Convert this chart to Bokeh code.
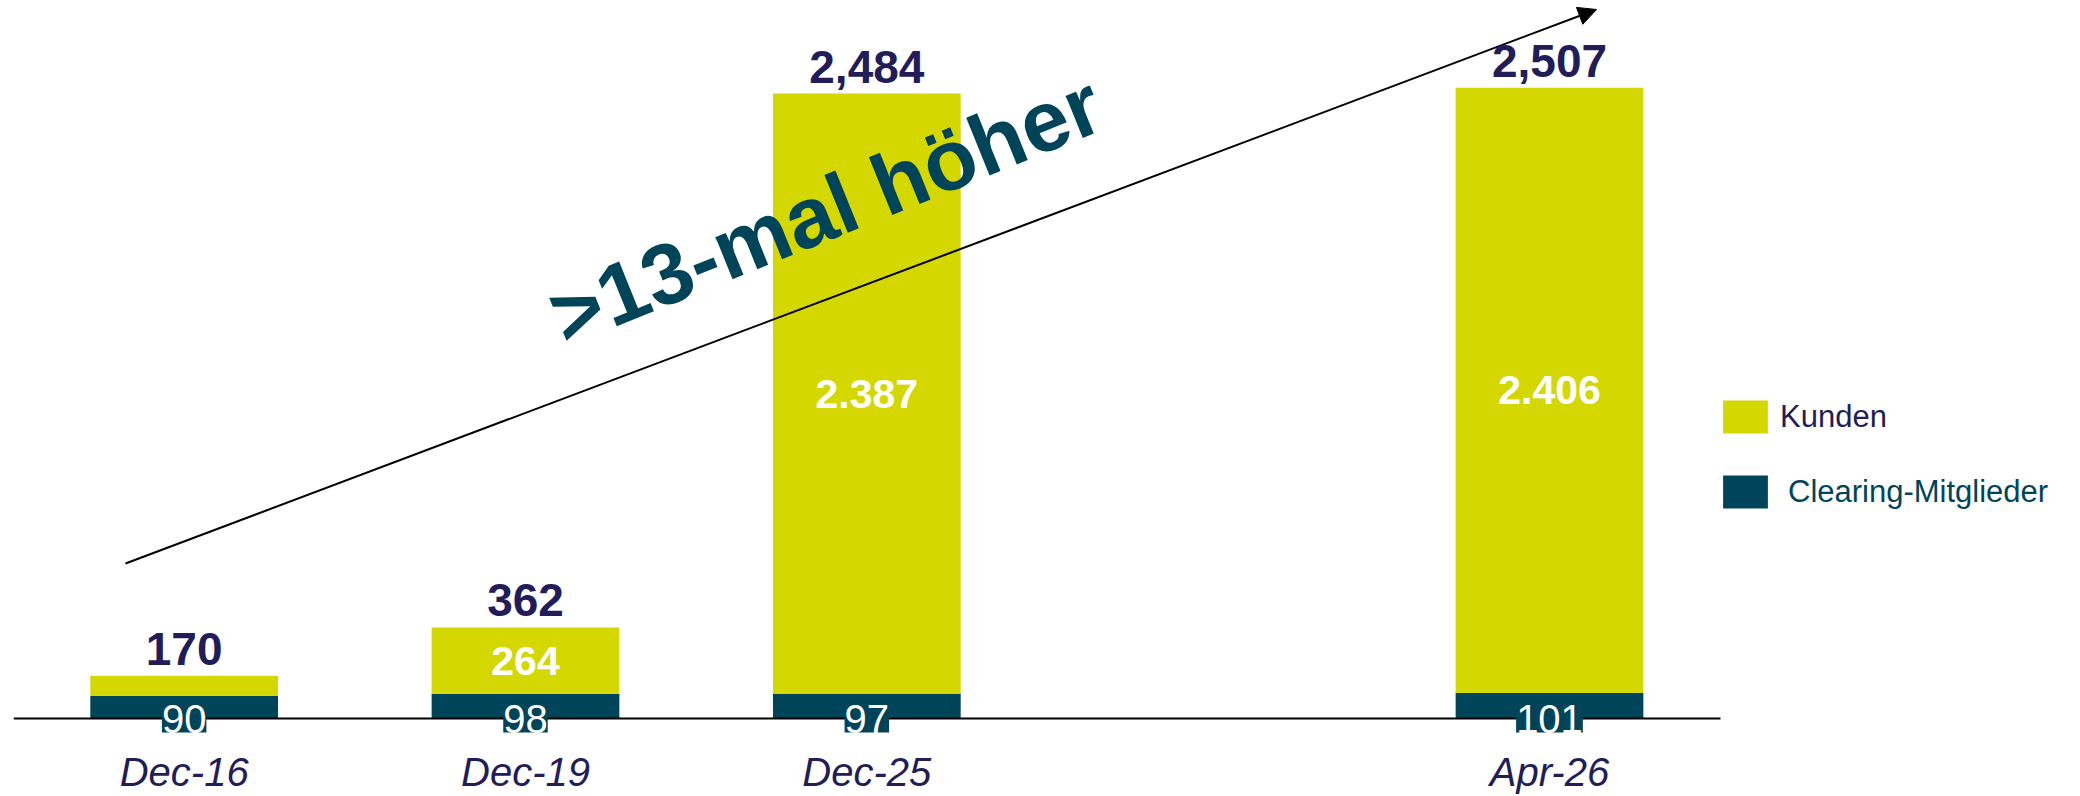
from bokeh.plotting import figure
from bokeh.models import (FactorRange, Range1d, CategoricalAxis, ColumnDataSource,
                          LabelSet, Label, Arrow, NormalHead, Legend, LegendItem)
from bokeh.core.properties import value
from bokeh.embed import file_html
from bokeh.resources import INLINE

# ---- data ----
categories = ["Dec-16", "Dec-19", "Dec-25", "Apr-26"]
clearing_members = [90, 98, 97, 101]
kunden = [80, 264, 2387, 2406]
series_names = ["Kunden", "Clearing-Mitglieder"]
growth_text = ">13-mal höher"

# ---- styles ----
YELLOW = "#d4d800"
TEAL = "#00445a"
NAVY = "#221c58"
FONT = "Liberation Sans"

totals = [c + k for c, k in zip(clearing_members, kunden)]
total_labels = [f"{t:,}" for t in totals]
kunden_labels = [f"{k:,}".replace(",", ".") if k >= 100 else "" for k in kunden]
clearing_labels = [str(c) for c in clearing_members]
kunden_mid = [c + k / 2 for c, k in zip(clearing_members, kunden)]

# gap slot between Dec-25 and Apr-26, plus a blank slot for the legend area
factors = categories[:3] + [" "] + categories[3:] + ["  "]

source = ColumnDataSource(dict(
    x=categories, clearing=clearing_members, kunden=kunden, total=totals,
    total_label=total_labels, kunden_label=kunden_labels, kunden_mid=kunden_mid,
    clearing_label=clearing_labels, zero=[0] * len(categories)))

p = figure(width=2080, height=796,
           x_range=FactorRange(*factors, range_padding=0),
           y_range=Range1d(-310.0, 2853.7),
           output_backend="svg", toolbar_location=None,
           x_axis_location=None, y_axis_location=None,
           min_border_left=13, min_border_right=19,
           min_border_top=0, min_border_bottom=0)
p.outline_line_color = None
p.grid.visible = False
p.background_fill_color = "white"

renderers = p.vbar_stack(["clearing", "kunden"], x="x", width=0.55,
                         color=[TEAL, YELLOW], line_color=None, source=source)

xaxis = CategoricalAxis(fixed_location=0, bounds=(0, 5),
                        axis_line_color="black", axis_line_width=2,
                        major_tick_line_color=None, minor_tick_line_color=None,
                        major_tick_out=0, major_tick_in=0,
                        major_label_standoff=31,
                        major_label_text_font=FONT,
                        major_label_text_font_size="40px",
                        major_label_text_font_style="italic",
                        major_label_text_color=NAVY)
p.add_layout(xaxis, "below")

p.add_layout(Arrow(x_start=112, y_start=233, x_end=1583, y_end=787,
                   start_units="screen", end_units="screen",
                   line_width=2, line_color="black",
                   end=NormalHead(size=18, fill_color="black", line_color="black")))

p.add_layout(LabelSet(x="x", y="total", text="total_label", source=source,
                      text_align="center", text_baseline="bottom", y_offset=11,
                      text_font=value(FONT), text_font_size="46px",
                      text_font_style="bold", text_color=NAVY))

p.add_layout(LabelSet(x="x", y="kunden_mid", text="kunden_label", source=source,
                      text_align="center", text_baseline="middle",
                      text_font=value(FONT), text_font_size="41px",
                      text_font_style="bold", text_color="white"))

p.add_layout(LabelSet(x="x", y="zero", text="clearing_label", source=source,
                      text_align="center", text_baseline="middle",
                      text_font=value(FONT), text_font_size="40px",
                      text_color="white", background_fill_color=TEAL))

p.add_layout(Label(x=812, y=587, x_units="screen", y_units="screen",
                   text=growth_text, angle=22, angle_units="deg",
                   text_align="center", text_baseline="middle",
                   text_font=FONT, text_font_size="86px",
                   text_font_style="bold", text_color=TEAL))

legend_common = dict(orientation="vertical", glyph_width=56, glyph_height=41,
                     label_text_font=FONT, label_text_font_size="31px",
                     border_line_color=None, background_fill_alpha=0,
                     padding=0, margin=0, spacing=0)
leg1 = Legend(items=[LegendItem(label=series_names[0], renderers=[renderers[1]])],
              location=(1704, 359), label_standoff=7, label_text_color=NAVY,
              **legend_common)
leg2 = Legend(items=[LegendItem(label=series_names[1], renderers=[renderers[0]])],
              location=(1704, 284), label_standoff=15, label_text_color=TEAL,
              **legend_common)
p.add_layout(leg1)
p.add_layout(leg2)

open("out.html", "w").write(file_html(p, INLINE))
